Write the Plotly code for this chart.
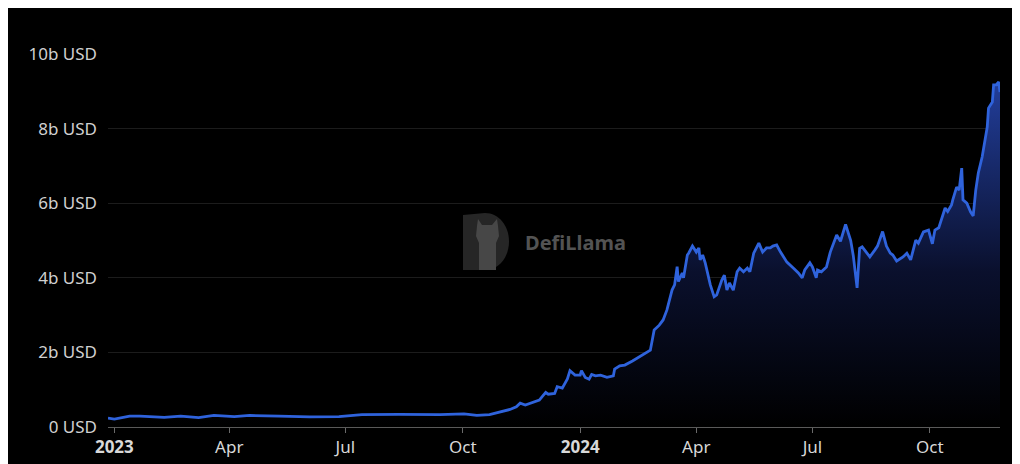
import plotly.graph_objects as go

# ---- data (values in billions USD) ----
dates = [
    "2022-12-27", "2023-01-01", "2023-01-13", "2023-01-21", "2023-02-09", "2023-02-22",
    "2023-03-08", "2023-03-20", "2023-04-05", "2023-04-17", "2023-05-10", "2023-06-03",
    "2023-06-26", "2023-07-14", "2023-08-12", "2023-09-13", "2023-10-02", "2023-10-12",
    "2023-10-22", "2023-10-30", "2023-11-07", "2023-11-12", "2023-11-15", "2023-11-19",
    "2023-11-25", "2023-11-30", "2023-12-05", "2023-12-07", "2023-12-12", "2023-12-14",
    "2023-12-18", "2023-12-22", "2023-12-24", "2023-12-28", "2024-01-01", "2024-01-02",
    "2024-01-05", "2024-01-08", "2024-01-10", "2024-01-13", "2024-01-17", "2024-01-22",
    "2024-01-27", "2024-01-28", "2024-02-01", "2024-02-05", "2024-02-11", "2024-02-17",
    "2024-02-25", "2024-02-28", "2024-03-03", "2024-03-06", "2024-03-09", "2024-03-13",
    "2024-03-15", "2024-03-17", "2024-03-18", "2024-03-21", "2024-03-22", "2024-03-25",
    "2024-03-26", "2024-03-29", "2024-04-01", "2024-04-03", "2024-04-04", "2024-04-06",
    "2024-04-08", "2024-04-12", "2024-04-15", "2024-04-17", "2024-04-21", "2024-04-23",
    "2024-04-25", "2024-04-27", "2024-04-30", "2024-05-03", "2024-05-05", "2024-05-08",
    "2024-05-11", "2024-05-13", "2024-05-16", "2024-05-20", "2024-05-23", "2024-05-26",
    "2024-05-29", "2024-05-31", "2024-06-03", "2024-06-06", "2024-06-11", "2024-06-16",
    "2024-06-20", "2024-06-23", "2024-06-25", "2024-06-29", "2024-07-01", "2024-07-04",
    "2024-07-05", "2024-07-08", "2024-07-12", "2024-07-15", "2024-07-20", "2024-07-23",
    "2024-07-27", "2024-07-31", "2024-08-02", "2024-08-05", "2024-08-07", "2024-08-09",
    "2024-08-13", "2024-08-15", "2024-08-19", "2024-08-21", "2024-08-25", "2024-08-28",
    "2024-08-31", "2024-09-02", "2024-09-05", "2024-09-10", "2024-09-13", "2024-09-16",
    "2024-09-20", "2024-09-22", "2024-09-26", "2024-09-30", "2024-10-03", "2024-10-05",
    "2024-10-08", "2024-10-13", "2024-10-15", "2024-10-18", "2024-10-19", "2024-10-22",
    "2024-10-24", "2024-10-26", "2024-10-27", "2024-10-30", "2024-11-02", "2024-11-04",
    "2024-11-06", "2024-11-08", "2024-11-11", "2024-11-13", "2024-11-15", "2024-11-16",
    "2024-11-19", "2024-11-20", "2024-11-22", "2024-11-24", "2024-11-25",
]
tvl_b = [
    0.24, 0.21, 0.29, 0.29, 0.26, 0.29,
    0.25, 0.31, 0.28, 0.31, 0.29, 0.27,
    0.28, 0.33, 0.34, 0.33, 0.35, 0.31,
    0.33, 0.40, 0.47, 0.54, 0.64, 0.59,
    0.66, 0.72, 0.93, 0.88, 0.90, 1.08,
    1.04, 1.29, 1.51, 1.39, 1.39, 1.51,
    1.33, 1.28, 1.41, 1.37, 1.39, 1.33,
    1.37, 1.55, 1.64, 1.66, 1.77, 1.90,
    2.06, 2.60, 2.73, 2.87, 3.14, 3.67,
    3.81, 4.30, 3.90, 4.13, 4.00, 4.61,
    4.66, 4.85, 4.69, 4.80, 4.48, 4.61,
    4.40, 3.81, 3.49, 3.54, 3.94, 4.07,
    3.67, 3.86, 3.67, 4.16, 4.26, 4.16,
    4.26, 4.16, 4.66, 4.93, 4.69, 4.80,
    4.80, 4.85, 4.88, 4.69, 4.42, 4.26,
    4.13, 4.00, 4.21, 4.40, 4.29, 4.00,
    4.21, 4.16, 4.29, 4.69, 5.15, 4.98,
    5.43, 5.00, 4.60, 3.73, 4.79, 4.83,
    4.66, 4.56, 4.75, 4.85, 5.24, 4.85,
    4.66, 4.61, 4.45, 4.56, 4.66, 4.48,
    5.01, 4.93, 5.23, 5.28, 4.91, 5.28,
    5.34, 5.87, 5.78, 5.95, 6.09, 6.43,
    6.35, 6.94, 6.09, 6.00, 5.76, 5.66,
    6.35, 6.81, 7.24, 7.61, 8.04, 8.55,
    8.71, 9.17, 9.17, 9.25, 8.98,
]

y_tick_vals_b = [0, 2, 4, 6, 8, 10]
y_tick_text = ["0 USD", "2b USD", "4b USD", "6b USD", "8b USD", "10b USD"]
x_tick_vals = ["2023-01-01", "2023-04-01", "2023-07-01", "2023-10-01",
               "2024-01-01", "2024-04-01", "2024-07-01", "2024-10-01"]
x_tick_text = ["<b>2023</b>", "Apr", "Jul", "Oct", "<b>2024</b>", "Apr", "Jul", "Oct"]
x_range = ["2022-12-27", "2024-11-25"]

tvl = [v * 1e9 for v in tvl_b]
y_tick_vals = [v * 1e9 for v in y_tick_vals_b]

FONT = "Noto Sans"
OFF = 8  # page body margin
W, H = 1012, 456
ML, MR, MT, MB = 100, 20, 46, 37
PW, PH = W - ML - MR, H - MT - MB


def px(x):  # screen x -> paper
    return (x - OFF - ML) / PW


def py(y):  # screen y -> paper
    return (H - MB - (y - OFF)) / PH


fig = go.Figure()
fig.add_trace(go.Scatter(
    x=dates, y=tvl, mode="lines",
    line=dict(color="#2f63dc", width=2.8, shape="linear"),
    fill="tozeroy",
    fillgradient=dict(
        type="vertical",
        colorscale=[[0, "rgb(0,0,0)"], [0.45, "rgb(10,16,45)"], [1, "rgb(34,62,155)"]],
    ),
    hoverinfo="skip",
    showlegend=False,
))

shapes = [
    # watermark "D" logo
    dict(type="path", xref="paper", yref="paper", layer="below",
         path=(f"M {px(463)},{py(215)} L {px(485)},{py(213)} "
               f"C {px(499)},{py(213)} {px(509)},{py(226)} {px(509)},{py(241.5)} "
               f"C {px(509)},{py(257)} {px(499)},{py(270)} {px(485)},{py(270)} "
               f"L {px(463)},{py(270)} Z"),
         fillcolor="#262626", line=dict(width=0)),
    # llama silhouette
    dict(type="path", xref="paper", yref="paper", layer="below",
         path=(f"M {px(479)},{py(270)} L {px(479)},{py(243)} L {px(476)},{py(236)} "
               f"L {px(477)},{py(226)} L {px(478)},{py(219)} L {px(482)},{py(225)} "
               f"L {px(492)},{py(225)} L {px(497)},{py(219)} L {px(498)},{py(226)} "
               f"L {px(499)},{py(236)} L {px(496)},{py(243)} L {px(496)},{py(270)} Z"),
         fillcolor="#474747", line=dict(width=0)),
]

fig.update_layout(
    width=W, height=H,
    margin=dict(l=ML, r=MR, t=MT, b=MB, pad=0, autoexpand=False),
    paper_bgcolor="#000000",
    plot_bgcolor="#000000",
    font=dict(family=FONT, size=17, color="#d0d0d0"),
    shapes=shapes,
    annotations=[
        dict(text="<b>DefiLlama</b>", xref="paper", yref="paper",
             x=px(575), y=py(242), xanchor="center", yanchor="middle",
             showarrow=False, font=dict(family=FONT, size=20, color="#535353")),
    ],
    hovermode=False,
)
fig.update_xaxes(
    type="date", range=x_range,
    tickvals=x_tick_vals, ticktext=x_tick_text,
    tickfont=dict(family=FONT, size=17, color="#d8d8d8"),
    showgrid=False, zeroline=False,
    showline=True, linecolor="#5a5a5a", linewidth=1,
    ticks="outside", ticklen=5, tickcolor="#6a6a6a", tickwidth=1,
    automargin=False,
)
fig.update_yaxes(
    range=[0, 10e9],
    tickvals=y_tick_vals, ticktext=y_tick_text,
    tickfont=dict(family=FONT, size=17, color="#d0d0d0"),
    showgrid=True, gridcolor="#1c1c1c", gridwidth=1,
    zeroline=False, showline=False, ticks="",
    ticklabelstandoff=10, automargin=False,
)

fig.write_html("out.html")
